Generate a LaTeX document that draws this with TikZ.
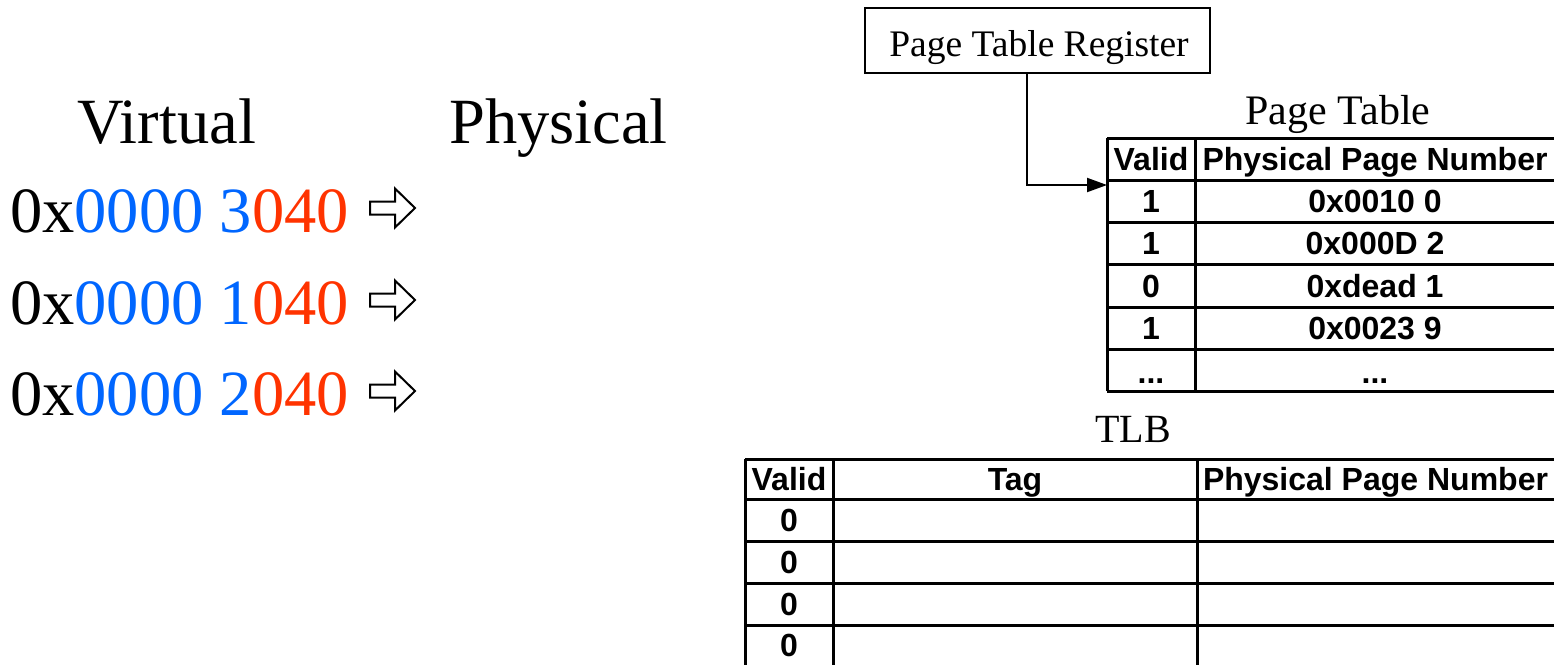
\documentclass[tikz,border=0pt]{standalone}
\usepackage{fontspec}
\setmainfont{Liberation Serif}
\setsansfont{Liberation Sans}
\usetikzlibrary{arrows.meta}
\definecolor{vblue}{RGB}{0,102,255}
\definecolor{vred}{RGB}{255,51,0}
\begin{document}
\begin{tikzpicture}[x=1pt,y=-1pt,
  big/.style={font=\fontsize{64.5}{64.5}\selectfont, inner sep=0pt, anchor=base west},
  ttl/.style={font=\fontsize{40}{40}\selectfont, inner sep=0pt, anchor=base},
  cell/.style={font=\sffamily\bfseries\fontsize{32}{32}\selectfont, inner sep=0pt, text height=23pt, text depth=0pt, anchor=center},
  tabline/.style={line width=3pt},
  harrow/.pic={\draw[line width=2pt, line join=miter] (0,-6.5) -- (25,-6.5) -- (25,-19.5) -- (45,0) -- (25,19.5) -- (25,6.5) -- (0,6.5) -- cycle;}
]
\useasboundingbox (0,0) rectangle (1554,665);

% left side
\node[big] (virt) at (77,143) {Virtual};
\node[big] (phys) at (449,143) {Physical};
\node[big] (a1) at (10,232) {0x\textcolor{vblue}{0000 3}\textcolor{vred}{040}};
\node[big] (a2) at (10,324) {0x\textcolor{vblue}{0000 1}\textcolor{vred}{040}};
\node[big] (a3) at (10,415) {0x\textcolor{vblue}{0000 2}\textcolor{vred}{040}};
\pic at (370,208) {harrow};
\pic at (370,300) {harrow};
\pic at (370,391) {harrow};

% page table register
\node[draw, line width=2pt, minimum width=345pt, minimum height=65pt, inner sep=0pt] (reg) at (1037.5,40.5) {};
\node[font=\fontsize{37.5}{37.5}\selectfont, inner sep=0pt, anchor=base] (regtxt) at (1039,56) {Page Table Register};
\coordinate (ptin) at (1107,185);
\draw[line width=2pt, -{Triangle[length=20pt,width=14pt]}] ([xshift=-10.5pt]reg.south) |- (ptin);

% page table
\node[ttl, font=\fontsize{42}{42}\selectfont] (pttitle) at (1338,124) {Page Table};
\foreach \y in {138,180,222,264,307,349,391} \draw[tabline] (1107,\y) -- (1554,\y);
\draw[tabline] (1107,138) -- (1107,391);
\draw[tabline] (1195,138) -- (1195,391);
\node[cell] (ph1) at (1151,159) {Valid};
\node[cell] (ph2) at (1375,159) {Physical Page Number};
\node[cell] (pv1) at (1151,201) {1};
\node[cell] (pp1) at (1375,201) {0x0010 0};
\node[cell] (pv2) at (1151,243) {1};
\node[cell] (pp2) at (1375,243) {0x000D 2};
\node[cell] (pv3) at (1151,285.5) {0};
\node[cell] (pp3) at (1375,285.5) {0xdead 1};
\node[cell] (pv4) at (1151,328) {1};
\node[cell] (pp4) at (1375,328) {0x0023 9};
\node[cell, anchor=base] (pv5) at (1151,383) {...};
\node[cell, anchor=base] (pp5) at (1375,383) {...};

% TLB
\node[ttl] (tlbtitle) at (1133,442) {TLB};
\foreach \y in {459,499,541,583,625} \draw[tabline] (745,\y) -- (1554,\y);
\draw[tabline] (745,459) -- (745,665);
\draw[tabline] (833,459) -- (833,665);
\draw[tabline] (1197,459) -- (1197,665);
\node[cell] (th1) at (789,479) {Valid};
\node[cell] (th2) at (1015,479) {Tag};
\node[cell] (th3) at (1375.5,479) {Physical Page Number};
\node[cell] (tv1) at (789,520) {0};
\node[cell] (tv2) at (789,562) {0};
\node[cell] (tv3) at (789,604) {0};
\node[cell] (tv4) at (789,645) {0};
\end{tikzpicture}
\end{document}
